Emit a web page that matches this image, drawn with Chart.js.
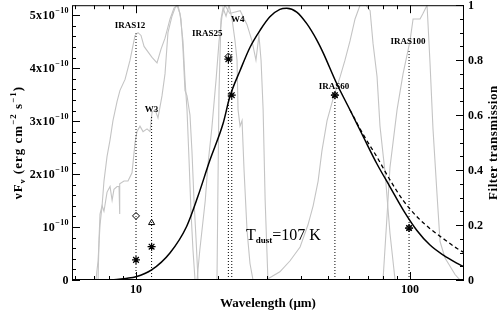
<!DOCTYPE html>
<html><head><meta charset="utf-8">
<script src="https://cdn.jsdelivr.net/npm/chart.js@4.4.1/dist/chart.umd.min.js"></script>
<style>html,body{margin:0;padding:0;background:#fff}</style>
</head><body>
<canvas id="c" width="502" height="311"></canvas>
<script>
// ---- data (flux in units of 1e-10 erg cm^-2 s^-1, wavelength in micron) ----
const bbWave = [7.8, 8.5, 9.2, 10, 11.4, 13.3, 15.3, 16.8, 18.6, 20.8, 22.0, 24.0, 26.1, 28.4, 30.8, 33.5, 35.5, 38.6, 42.0, 45.7, 48.3, 54.0, 60.4, 67.6, 75.6, 84.5, 94.5, 105.8, 118.3, 132.3, 148, 157.4];
const bbFlux = [0.0, 0.01, 0.03, 0.06, 0.19, 0.51, 1.01, 1.57, 2.26, 2.96, 3.46, 3.96, 4.40, 4.72, 4.97, 5.11, 5.13, 5.06, 4.84, 4.53, 4.28, 3.71, 3.21, 2.70, 2.20, 1.76, 1.32, 0.94, 0.66, 0.47, 0.32, 0.25];
const altWave = [60.4, 67.6, 75.6, 84.5, 94.5, 105.8, 118.3, 132.3, 148, 157.4];
const altFlux = [3.21, 2.74, 2.33, 1.89, 1.50, 1.20, 0.97, 0.78, 0.60, 0.52];

const iras12Wave = [7.14, 7.27, 7.39, 7.52, 7.64, 7.84, 8.04, 8.24, 8.53, 8.74, 9.12, 9.51, 9.92, 10.17, 10.43, 10.70, 11.06, 11.44, 11.93, 12.34, 12.76, 13.31, 13.76, 14.11, 14.47, 14.84, 15.09, 15.35, 15.61, 15.87, 16.14, 16.42];
const iras12Trans = [0, 0.07, 0.20, 0.27, 0.36, 0.45, 0.51, 0.58, 0.65, 0.69, 0.73, 0.80, 0.89, 0.90, 0.89, 0.85, 0.83, 0.81, 0.79, 0.84, 0.88, 0.95, 0.99, 1.0, 0.97, 0.87, 0.73, 0.62, 0.44, 0.25, 0.11, 0];
const w3Wave = [7.27, 7.33, 7.39, 7.52, 7.64, 7.84, 8.04, 8.18, 8.31, 8.53, 8.67, 8.70, 8.74, 9.04, 9.35, 9.67, 9.92, 10.08, 10.34, 10.61, 10.97, 11.25, 11.44, 11.73, 12.03, 12.44, 12.76, 13.08, 13.53, 13.88, 14.23, 14.59, 14.84, 15.09, 15.35, 15.74, 16.00, 16.28, 16.56, 16.84];
const w3Trans = [0, 0.15, 0.24, 0.27, 0.25, 0.32, 0.34, 0.29, 0.33, 0.34, 0.34, 0.24, 0.35, 0.36, 0.36, 0.39, 0.50, 0.54, 0.56, 0.54, 0.55, 0.54, 0.61, 0.62, 0.59, 0.67, 0.75, 0.90, 0.96, 0.99, 1.0, 0.95, 0.84, 0.69, 0.67, 0.60, 0.47, 0.29, 0.15, 0];
const iras25Wave = [16.7, 17.1, 17.9, 18.3, 18.9, 19.6, 20.1, 20.6, 21.1, 22.0, 24.0, 25.4, 26.5, 27.4, 28.1, 28.6, 29.1, 29.6, 30.3];
const iras25Trans = [0, 0.11, 0.29, 0.42, 0.55, 0.73, 0.87, 0.96, 1.0, 0.97, 0.98, 0.93, 0.87, 0.80, 0.89, 0.80, 0.62, 0.29, 0];
const w4Wave = [19.75, 19.92, 20.09, 20.43, 20.78, 21.31, 21.85, 22.41, 22.98, 23.37, 23.57, 23.97, 24.38, 24.79, 25.42, 26.06, 26.73];
const w4Trans = [0, 0.36, 0.69, 0.95, 0.99, 0.96, 1.0, 0.95, 0.87, 0.80, 0.62, 0.56, 0.58, 0.40, 0.18, 0.06, 0];
const iras60Wave = [29.8, 33.5, 36.5, 39.7, 42.4, 44.3, 46.2, 47.7, 49.8, 52.4, 55.6, 57.9, 60.4, 63.0, 65.7, 69.1, 71.5, 73.3, 75.8, 77.7, 81.1, 84.5, 88.2];
const iras60Trans = [0, 0.03, 0.07, 0.12, 0.20, 0.27, 0.36, 0.47, 0.58, 0.66, 0.74, 0.80, 0.87, 0.95, 1.0, 1.0, 0.98, 0.86, 0.74, 0.56, 0.39, 0.17, 0];
const iras100Wave = [79.7, 82.4, 84.5, 89.7, 94.3, 100, 102.6, 108.8, 111.5, 115.4, 118.3, 121.3, 125.5, 128.7, 134.2, 140.0, 146.0, 152.3];
const iras100Trans = [0, 0.23, 0.41, 0.62, 0.75, 0.87, 0.95, 0.95, 0.97, 1.0, 0.79, 0.55, 0.31, 0.14, 0.08, 0.05, 0.02, 0];

const bandNames = ['IRAS12', 'W3', 'IRAS25', 'W4', 'IRAS60', 'IRAS100'];
const bandWave  = [10.0, 11.4, 21.73, 22.36, 53.2, 99.2];
const bandTop   = [4.66, 3.08, 4.53, 4.53, 3.40, 4.34];
const starWave = [10.0, 11.4, 21.73, 22.36, 53.2, 99.2];
const starFlux = [0.38, 0.63, 4.17, 3.49, 3.49, 0.98];
const diamondWave = [10.0, 21.73, 53.2, 99.2];
const diamondFlux = [1.21, 4.22, 3.49, 0.98];
const triangleWave = [11.4];
const triangleFlux = [1.08];
const leftTicks = [0, 1, 2, 3, 4, 5];
const rightTicks = [0, 0.2, 0.4, 0.6, 0.8, 1];
const bottomTicks = [10, 100];
const tdust = 107;

// ---- styling / layout ----
const GRAY = '#c4c4c4';
const pts = (w, v) => w.map((x, i) => ({x: x, y: v[i]}));
const grayLine = (w, t) => ({data: pts(w, t), yAxisID: 'y2', showLine: true, borderColor: GRAY, borderWidth: 1.1, pointRadius: 0, order: 10});
const labelOffsets = {IRAS12: [-6, 5], W3: [0, 5], IRAS25: [-21, 4], W4: [6, 18], IRAS60: [-1, 11], IRAS100: [-1, 6]};

const datasets = [
  {data: pts(starWave, starFlux), yAxisID: 'y', showLine: false, pointStyle: 'star', pointRadius: 4, borderColor: '#000', borderWidth: 1.2, backgroundColor: '#000', order: 0},
  {data: pts(diamondWave, diamondFlux), yAxisID: 'y', showLine: false, pointStyle: 'rectRot', pointRadius: 3.5, borderColor: '#000', borderWidth: 1, backgroundColor: 'rgba(0,0,0,0)', order: 0},
  {data: pts(triangleWave, triangleFlux), yAxisID: 'y', showLine: false, pointStyle: 'triangle', pointRadius: 3.5, borderColor: '#000', borderWidth: 1, backgroundColor: 'rgba(0,0,0,0)', order: 0},
  {data: pts(bbWave, bbFlux), yAxisID: 'y', showLine: true, borderColor: '#000', borderWidth: 1.5, pointRadius: 0, cubicInterpolationMode: 'monotone', order: 1},
  {data: pts(altWave, altFlux), yAxisID: 'y', showLine: true, borderColor: '#000', borderWidth: 1.3, borderDash: [4, 3], pointRadius: 0, cubicInterpolationMode: 'monotone', order: 1}
];
bandNames.forEach((n, i) => {
  datasets.push({data: [{x: bandWave[i], y: 0}, {x: bandWave[i], y: bandTop[i]}], yAxisID: 'y', showLine: true, borderColor: '#000', borderWidth: 1, borderDash: [1, 2], pointRadius: 0, order: 2});
});
datasets.push(grayLine(iras12Wave, iras12Trans), grayLine(w3Wave, w3Trans), grayLine(iras25Wave, iras25Trans),
              grayLine(w4Wave, w4Trans), grayLine(iras60Wave, iras60Trans), grayLine(iras100Wave, iras100Trans));

function richText(c, parts, x, y) {
  let cx = x;
  parts.forEach(p => {
    c.font = (p[3] === false ? '' : 'bold ') + p[1] + 'px "Liberation Serif", serif';
    c.fillText(p[0], cx, y + p[2]);
    cx += c.measureText(p[0]).width;
  });
  return cx - x;
}
function richWidth(c, parts) {
  let w = 0;
  parts.forEach(p => { c.font = (p[3] === false ? '' : 'bold ') + p[1] + 'px "Liberation Serif", serif'; w += c.measureText(p[0]).width; });
  return w;
}

const axesPlugin = {
  id: 'axesPlugin',
  afterDatasetsDraw(chart) {
    const c = chart.ctx, a = chart.chartArea, sx = chart.scales.x, sy = chart.scales.y, sy2 = chart.scales.y2;
    c.save();
    c.strokeStyle = '#000'; c.fillStyle = '#000'; c.lineWidth = 1;
    c.strokeRect(a.left + 0.5, a.top + 0.5, a.right - a.left - 1, a.bottom - a.top - 1);
    c.beginPath();
    for (let d = 0; d <= 2; d++) for (let m = 1; m <= 9; m++) {
      const v = m * Math.pow(10, d);
      if (v < sx.min || v > sx.max) continue;
      const px = Math.round(sx.getPixelForValue(v)) + 0.5, L = (m === 1) ? 8 : 4;
      c.moveTo(px, a.bottom); c.lineTo(px, a.bottom - L);
      c.moveTo(px, a.top); c.lineTo(px, a.top + L);
    }
    for (let k = 0; k <= 26; k++) {
      const v = k * 0.2; if (v > sy.max) break;
      const py = Math.round(sy.getPixelForValue(v)) + 0.5, L = (k % 5 === 0) ? 8 : 4;
      c.moveTo(a.left, py); c.lineTo(a.left + L, py);
    }
    for (let k = 0; k <= 20; k++) {
      const v = k * 0.05;
      const py = Math.round(sy2.getPixelForValue(v)) + 0.5, L = (k % 4 === 0) ? 8 : 4;
      c.moveTo(a.right, py); c.lineTo(a.right - L, py);
    }
    c.stroke();

    c.textBaseline = 'alphabetic'; c.textAlign = 'left';
    leftTicks.forEach(k => {
      const py = sy.getPixelForValue(k);
      let parts;
      if (k === 0) parts = [['0', 12, 0]];
      else if (k === 1) parts = [['10', 12, 0], ['\u221210', 8, -6]];
      else parts = [[k + 'x10', 12, 0], ['\u221210', 8, -6]];
      if ('letterSpacing' in c) c.letterSpacing = '0.4px';
      const w = richWidth(c, parts);
      richText(c, parts, a.left - 3 - w, py + 4);
      if ('letterSpacing' in c) c.letterSpacing = '0px';
    });
    rightTicks.forEach(t => {
      const py = sy2.getPixelForValue(t);
      c.font = 'bold 12px "Liberation Serif", serif';
      c.fillText(String(t), a.right + 4, py + 4);
    });
    c.textAlign = 'center';
    bottomTicks.forEach(v => {
      c.font = 'bold 12px "Liberation Serif", serif';
      c.fillText(String(v), sx.getPixelForValue(v), a.bottom + 13);
    });
    c.font = 'bold 13px "Liberation Serif", serif';
    c.fillText('Wavelength (\u03bcm)', (a.left + a.right) / 2, a.bottom + 27);

    c.save();
    c.translate(22, (a.top + a.bottom) / 2);
    c.rotate(-Math.PI / 2);
    c.textAlign = 'left';
    if ('letterSpacing' in c) c.letterSpacing = '1px';
    const lt = [['\u03bdF', 13, 0], ['\u03bd', 9, 3], [' (erg cm', 13, 0], ['\u22122', 9, -6], [' s', 13, 0], ['\u22121', 9, -6], [')', 13, 0]];
    richText(c, lt, -richWidth(c, lt) / 2, 0);
    c.restore();
    c.save();
    c.translate(497, (a.top + a.bottom) / 2);
    c.rotate(-Math.PI / 2);
    c.textAlign = 'center';
    if ('letterSpacing' in c) c.letterSpacing = '0.5px';
    c.font = 'bold 13px "Liberation Serif", serif';
    c.fillText('Filter transmission', 0, 0);
    c.restore();

    c.textAlign = 'center';
    c.font = 'bold 9px "Liberation Serif", serif';
    bandNames.forEach((n, i) => {
      const off = labelOffsets[n];
      const px = sx.getPixelForValue(bandWave[i]) + off[0];
      const py = sy.getPixelForValue(bandTop[i]) - off[1];
      c.fillText(n, px, py);
    });

    c.textAlign = 'left';
    richText(c, [['T', 16, 0, false], ['dust', 9, 3], ['=' + tdust + ' K', 16, 0, false]], 246, 240);
    c.restore();
  }
};

new Chart(document.getElementById('c'), {
  type: 'scatter',
  data: {datasets: datasets},
  options: {
    responsive: false, animation: false, devicePixelRatio: 1,
    layout: {padding: {left: 72, right: 38, top: 5, bottom: 31}},
    plugins: {legend: {display: false}, tooltip: {enabled: false}},
    scales: {
      x: {type: 'logarithmic', min: 5.84, max: 157.4, display: false},
      y: {type: 'linear', min: 0, max: 5.189, display: false},
      y2: {type: 'linear', position: 'right', min: 0, max: 1, display: false}
    }
  },
  plugins: [axesPlugin]
});
</script>
</body></html>
